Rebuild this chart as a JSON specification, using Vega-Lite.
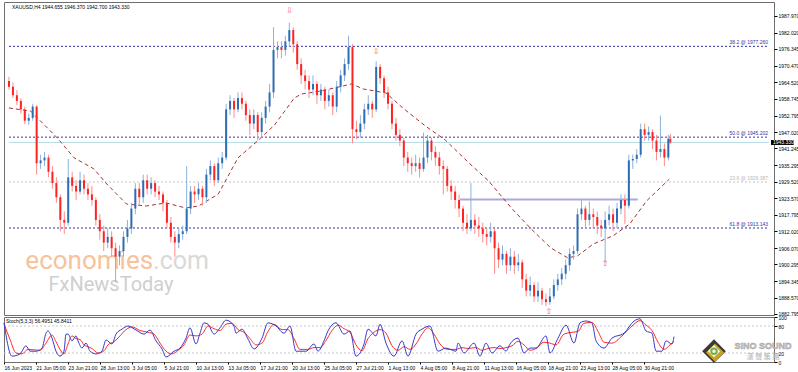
{
"$schema":"https://vega.github.io/schema/vega-lite/v6.json",
"padding":{"left":1,"top":1,"right":0,"bottom":0},
"background":"#ffffff",
"config":{"view":{"stroke":"#6e6e6e","strokeWidth":1},"text":{"font":"Liberation Sans"},"axis":{"labelOverlap":false,"labelBound":false,"labelFlush":false,"labelSeparation":0}},
"spacing":2,
"bounds":"flush",
"datasets":{
"candles":[
{"i":0,"o":1965,"h":1966.5,"l":1962,"c":1963},{"i":2,"o":1963,"h":1964.5,"l":1959,"c":1960},{"i":4,"o":1960,"h":1961.8,"l":1956.5,"c":1958},{"i":6,"o":1958,"h":1959,"l":1953.5,"c":1955},{"i":8,"o":1955,"h":1956,"l":1949.8,"c":1951},{"i":10,"o":1951,"h":1953.5,"l":1949.5,"c":1952},{"i":12,"o":1952,"h":1957,"l":1951,"c":1956},{"i":14,"o":1956,"h":1956.5,"l":1932,"c":1936},{"i":16,"o":1936,"h":1939,"l":1934,"c":1937},{"i":18,"o":1937,"h":1940,"l":1935,"c":1938},
{"i":20,"o":1938,"h":1939,"l":1931,"c":1933},{"i":22,"o":1933,"h":1935,"l":1927,"c":1929},{"i":24,"o":1929,"h":1931,"l":1922,"c":1924},{"i":26,"o":1924,"h":1925,"l":1912,"c":1916},{"i":28,"o":1916,"h":1919,"l":1911,"c":1915},{"i":30,"o":1915,"h":1937.5,"l":1914,"c":1931},{"i":32,"o":1931,"h":1933,"l":1926,"c":1928},{"i":34,"o":1928,"h":1930,"l":1923,"c":1926},{"i":36,"o":1926,"h":1933,"l":1925,"c":1930},{"i":38,"o":1930,"h":1932,"l":1925,"c":1927},
{"i":40,"o":1927,"h":1929,"l":1923,"c":1925},{"i":42,"o":1925,"h":1928,"l":1921,"c":1923},{"i":44,"o":1923,"h":1924,"l":1914,"c":1916},{"i":46,"o":1916,"h":1918,"l":1909,"c":1912},{"i":48,"o":1912,"h":1914,"l":1905,"c":1908},{"i":50,"o":1908,"h":1913,"l":1906,"c":1910},{"i":52,"o":1910,"h":1912,"l":1903,"c":1906},{"i":54,"o":1906,"h":1908,"l":1894,"c":1903},{"i":56,"o":1903,"h":1907,"l":1900,"c":1905},{"i":58,"o":1905,"h":1912,"l":1903,"c":1910},
{"i":60,"o":1910,"h":1916,"l":1908,"c":1913},{"i":62,"o":1913,"h":1922,"l":1911,"c":1920},{"i":64,"o":1920,"h":1929,"l":1918,"c":1927},{"i":66,"o":1927,"h":1929,"l":1921,"c":1924},{"i":68,"o":1924,"h":1932,"l":1922,"c":1930},{"i":70,"o":1930,"h":1932,"l":1925,"c":1927},{"i":72,"o":1927,"h":1931,"l":1925,"c":1929},{"i":74,"o":1929,"h":1930,"l":1924,"c":1926},{"i":76,"o":1926,"h":1928,"l":1923,"c":1925},{"i":78,"o":1925,"h":1926,"l":1919,"c":1922},
{"i":80,"o":1922,"h":1923,"l":1913,"c":1915},{"i":82,"o":1915,"h":1917,"l":1908,"c":1910},{"i":84,"o":1910,"h":1912,"l":1903,"c":1908},{"i":86,"o":1908,"h":1913,"l":1906,"c":1911},{"i":88,"o":1911,"h":1914,"l":1909,"c":1912},{"i":90,"o":1912,"h":1935,"l":1911,"c":1920},{"i":92,"o":1920,"h":1928,"l":1918,"c":1926},{"i":94,"o":1926,"h":1928,"l":1922,"c":1925},{"i":96,"o":1925,"h":1929,"l":1923,"c":1927},{"i":98,"o":1927,"h":1928,"l":1921,"c":1924},
{"i":100,"o":1924,"h":1934,"l":1922,"c":1932},{"i":102,"o":1932,"h":1937,"l":1930,"c":1935},{"i":104,"o":1935,"h":1936,"l":1928,"c":1930},{"i":106,"o":1930,"h":1938,"l":1929,"c":1936},{"i":108,"o":1936,"h":1940,"l":1934,"c":1938},{"i":110,"o":1938,"h":1957,"l":1937,"c":1955},{"i":112,"o":1955,"h":1960,"l":1953,"c":1958},{"i":114,"o":1958,"h":1959,"l":1952,"c":1955},{"i":116,"o":1955,"h":1961,"l":1954,"c":1959},{"i":118,"o":1959,"h":1961,"l":1955,"c":1957},
{"i":120,"o":1957,"h":1958,"l":1951,"c":1953},{"i":122,"o":1953,"h":1955,"l":1946,"c":1950},{"i":124,"o":1950,"h":1955,"l":1948,"c":1953},{"i":126,"o":1953,"h":1954,"l":1944,"c":1947},{"i":128,"o":1947,"h":1954,"l":1945,"c":1952},{"i":130,"o":1952,"h":1958,"l":1950,"c":1956},{"i":132,"o":1956,"h":1964,"l":1954,"c":1961},{"i":134,"o":1961,"h":1984,"l":1959,"c":1976},{"i":136,"o":1976,"h":1979,"l":1973,"c":1977},{"i":138,"o":1977,"h":1979,"l":1973,"c":1976},
{"i":140,"o":1976,"h":1981,"l":1974,"c":1979},{"i":142,"o":1979,"h":1985.6,"l":1977,"c":1983},{"i":144,"o":1983,"h":1984,"l":1975,"c":1978},{"i":146,"o":1978,"h":1979,"l":1969,"c":1971},{"i":148,"o":1971,"h":1973,"l":1964,"c":1967},{"i":150,"o":1967,"h":1969,"l":1962,"c":1965},{"i":152,"o":1965,"h":1967,"l":1959,"c":1962},{"i":154,"o":1962,"h":1967,"l":1960,"c":1964},{"i":156,"o":1964,"h":1965,"l":1957,"c":1960},{"i":158,"o":1960,"h":1964,"l":1958,"c":1962},
{"i":160,"o":1962,"h":1963,"l":1955,"c":1958},{"i":162,"o":1958,"h":1962,"l":1956,"c":1960},{"i":164,"o":1960,"h":1961,"l":1953,"c":1956},{"i":166,"o":1956,"h":1965,"l":1954,"c":1963},{"i":168,"o":1963,"h":1969,"l":1961,"c":1967},{"i":170,"o":1967,"h":1973,"l":1965,"c":1971},{"i":172,"o":1971,"h":1981,"l":1969,"c":1977},{"i":174,"o":1977,"h":1978,"l":1943,"c":1948},{"i":176,"o":1948,"h":1951,"l":1944.5,"c":1947},{"i":178,"o":1947,"h":1953,"l":1945,"c":1950},
{"i":180,"o":1950,"h":1957,"l":1948,"c":1955},{"i":182,"o":1955,"h":1960,"l":1953,"c":1957},{"i":184,"o":1957,"h":1958,"l":1952,"c":1955},{"i":186,"o":1955,"h":1972,"l":1954,"c":1970},{"i":188,"o":1970,"h":1971,"l":1964,"c":1966},{"i":190,"o":1966,"h":1967,"l":1959,"c":1961},{"i":192,"o":1961,"h":1963,"l":1955,"c":1957},{"i":194,"o":1957,"h":1958,"l":1948,"c":1950},{"i":196,"o":1950,"h":1952,"l":1944,"c":1946},{"i":198,"o":1946,"h":1948,"l":1942,"c":1944},
{"i":200,"o":1944,"h":1945,"l":1935,"c":1938},{"i":202,"o":1938,"h":1940,"l":1933,"c":1936},{"i":204,"o":1936,"h":1938,"l":1932,"c":1935},{"i":206,"o":1935,"h":1939,"l":1933,"c":1936},{"i":208,"o":1936,"h":1938,"l":1931,"c":1934},{"i":210,"o":1934,"h":1946.8,"l":1933,"c":1938},{"i":212,"o":1938,"h":1946,"l":1936,"c":1944},{"i":214,"o":1944,"h":1945,"l":1937,"c":1940},{"i":216,"o":1940,"h":1942,"l":1935,"c":1938},{"i":218,"o":1938,"h":1940,"l":1932,"c":1935},
{"i":220,"o":1935,"h":1937,"l":1925,"c":1934},{"i":222,"o":1934,"h":1935,"l":1926,"c":1928},{"i":224,"o":1928,"h":1930,"l":1923,"c":1926},{"i":226,"o":1926,"h":1928,"l":1920,"c":1923},{"i":228,"o":1923,"h":1925,"l":1917,"c":1920},{"i":230,"o":1920,"h":1921,"l":1912,"c":1915},{"i":232,"o":1915,"h":1918,"l":1911,"c":1913},{"i":234,"o":1913,"h":1929,"l":1912,"c":1916},{"i":236,"o":1916,"h":1918,"l":1911,"c":1914},{"i":238,"o":1914,"h":1917,"l":1910,"c":1913},
{"i":240,"o":1913,"h":1915,"l":1908,"c":1911},{"i":242,"o":1911,"h":1913,"l":1907,"c":1910},{"i":244,"o":1910,"h":1915,"l":1908,"c":1912},{"i":246,"o":1912,"h":1913,"l":1897,"c":1906},{"i":248,"o":1906,"h":1908,"l":1899,"c":1902},{"i":250,"o":1902,"h":1907,"l":1900,"c":1904},{"i":252,"o":1904,"h":1905,"l":1897,"c":1900},{"i":254,"o":1900,"h":1906,"l":1898,"c":1903},{"i":256,"o":1903,"h":1905,"l":1897,"c":1900},{"i":258,"o":1900,"h":1904,"l":1898,"c":1901},
{"i":260,"o":1901,"h":1902,"l":1892,"c":1895},{"i":262,"o":1895,"h":1897,"l":1889,"c":1891},{"i":264,"o":1891,"h":1896,"l":1889,"c":1893},{"i":266,"o":1893,"h":1894,"l":1887,"c":1889},{"i":268,"o":1889,"h":1894,"l":1887,"c":1891},{"i":270,"o":1891,"h":1892,"l":1886,"c":1888},{"i":272,"o":1888,"h":1890,"l":1885.6,"c":1887},{"i":274,"o":1887,"h":1892,"l":1886,"c":1889},{"i":276,"o":1889,"h":1895,"l":1888,"c":1893},{"i":278,"o":1893,"h":1897,"l":1891,"c":1895},
{"i":280,"o":1895,"h":1899,"l":1893,"c":1897},{"i":282,"o":1897,"h":1902,"l":1895,"c":1900},{"i":284,"o":1900,"h":1906,"l":1898,"c":1904},{"i":286,"o":1904,"h":1907,"l":1902,"c":1905},{"i":288,"o":1905,"h":1920,"l":1904,"c":1918},{"i":290,"o":1918,"h":1923,"l":1916,"c":1920},{"i":292,"o":1920,"h":1921,"l":1913,"c":1916},{"i":294,"o":1916,"h":1922.5,"l":1914,"c":1918},{"i":296,"o":1918,"h":1920,"l":1913,"c":1917},{"i":298,"o":1917,"h":1919,"l":1911,"c":1914},
{"i":300,"o":1914,"h":1916,"l":1910,"c":1913},{"i":302,"o":1913,"h":1919,"l":1901,"c":1916},{"i":304,"o":1916,"h":1921,"l":1914,"c":1918},{"i":306,"o":1918,"h":1920,"l":1912,"c":1915},{"i":308,"o":1915,"h":1922,"l":1913,"c":1920},{"i":310,"o":1920,"h":1925,"l":1918,"c":1923},{"i":312,"o":1923,"h":1925,"l":1914.6,"c":1921},{"i":314,"o":1921,"h":1939,"l":1920,"c":1937},{"i":316,"o":1937,"h":1939,"l":1934,"c":1937.5},{"i":318,"o":1937.5,"h":1941,"l":1936,"c":1939},
{"i":320,"o":1939,"h":1950,"l":1938,"c":1948},{"i":322,"o":1948,"h":1950,"l":1944,"c":1946},{"i":324,"o":1946,"h":1949,"l":1944,"c":1947},{"i":326,"o":1947,"h":1948,"l":1941,"c":1944},{"i":328,"o":1944,"h":1946,"l":1937,"c":1940},{"i":330,"o":1940,"h":1952.8,"l":1938,"c":1941},{"i":332,"o":1941,"h":1943,"l":1935,"c":1938},{"i":334,"o":1938,"h":1946,"l":1937,"c":1944.655},{"i":335,"o":1944.655,"h":1946.37,"l":1942.7,"c":1943.33}
],
"ma":[
{"i":0,"p":1955.5},{"i":11,"p":1954.4},{"i":24.5,"p":1944.9},{"i":33,"p":1937.9},{"i":43,"p":1934.0},{"i":49.5,"p":1928.7},{"i":59.5,"p":1921.6},{"i":69.5,"p":1920.9},{"i":79.5,"p":1922.0},{"i":89.5,"p":1920.2},{"i":96,"p":1920.9},{"i":106,"p":1925.1},{"i":116,"p":1937.9},{"i":126,"p":1943.9},{"i":134.5,"p":1949.5},{"i":144.5,"p":1959.0},{"i":148,"p":1960.4},{"i":158,"p":1961.5},{"i":169.5,"p":1963.3},{"i":173.5,"p":1964.0},{"i":179.5,"p":1962.2},{"i":191,"p":1960.8},{"i":199.5,"p":1955.5},{"i":211,"p":1949.1},{"i":221,"p":1944.2},{"i":233,"p":1936.1},{"i":243,"p":1929.7},{"i":254.5,"p":1920.2},{"i":264.5,"p":1912.8},{"i":274.5,"p":1906.1},{"i":283,"p":1902.6},{"i":288,"p":1903.3},{"i":296,"p":1907.5},{"i":306,"p":1910.4},{"i":314.5,"p":1914.6},{"i":323,"p":1922.7},{"i":334.5,"p":1930.4}
],
"k":[
{"i":0,"v":87},{"i":4,"v":13},{"i":8,"v":18},{"i":11,"v":36},{"i":13,"v":24},{"i":16,"v":24},{"i":19,"v":31},{"i":21,"v":64},{"i":22,"v":69},{"i":24,"v":53},{"i":26,"v":24},{"i":28,"v":13},{"i":30,"v":24},{"i":31,"v":62},{"i":32,"v":62},{"i":34,"v":47},{"i":36,"v":58},{"i":37,"v":47},{"i":39,"v":31},{"i":41,"v":42},{"i":43,"v":24},{"i":46,"v":18},{"i":49,"v":24},{"i":51,"v":49},{"i":54,"v":40},{"i":56,"v":62},{"i":59,"v":73},{"i":62,"v":80},{"i":66,"v":71},{"i":70,"v":62},{"i":73,"v":71},{"i":76,"v":47},{"i":79,"v":29},{"i":81,"v":11},{"i":85,"v":24},{"i":88,"v":31},{"i":91,"v":53},{"i":93,"v":76},{"i":96,"v":40},{"i":98,"v":64},{"i":100,"v":87},{"i":102,"v":84},{"i":105,"v":62},{"i":108,"v":76},{"i":111,"v":93},{"i":115,"v":80},{"i":116,"v":64},{"i":119,"v":73},{"i":122,"v":51},{"i":125,"v":29},{"i":129,"v":53},{"i":132,"v":87},{"i":136,"v":80},{"i":140,"v":64},{"i":143,"v":80},{"i":146,"v":24},{"i":151,"v":24},{"i":155,"v":40},{"i":157,"v":24},{"i":160,"v":47},{"i":162,"v":69},{"i":166,"v":87},{"i":170,"v":62},{"i":173,"v":69},{"i":176,"v":13},{"i":180,"v":40},{"i":182,"v":73},{"i":186,"v":58},{"i":188,"v":84},{"i":191,"v":42},{"i":195,"v":13},{"i":199,"v":47},{"i":202,"v":13},{"i":206,"v":62},{"i":209,"v":73},{"i":213,"v":80},{"i":217,"v":24},{"i":221,"v":31},{"i":226,"v":24},{"i":227,"v":42},{"i":230,"v":20},{"i":235,"v":42},{"i":238,"v":13},{"i":241,"v":42},{"i":244,"v":20},{"i":248,"v":36},{"i":251,"v":24},{"i":253,"v":40},{"i":257,"v":53},{"i":260,"v":20},{"i":263,"v":31},{"i":266,"v":31},{"i":271,"v":58},{"i":273,"v":20},{"i":277,"v":53},{"i":281,"v":82},{"i":285,"v":42},{"i":288,"v":87},{"i":291,"v":91},{"i":294,"v":87},{"i":296,"v":47},{"i":300,"v":31},{"i":304,"v":53},{"i":310,"v":64},{"i":315,"v":91},{"i":318,"v":96},{"i":321,"v":69},{"i":324,"v":64},{"i":326,"v":24},{"i":329,"v":24},{"i":331,"v":47},{"i":334,"v":40},{"i":335,"v":56.5}
],
"d":[
{"i":0,"v":85},{"i":3,"v":50},{"i":6,"v":20},{"i":9,"v":18},{"i":12,"v":28},{"i":15,"v":27},{"i":18,"v":26},{"i":21,"v":42},{"i":24,"v":60},{"i":26,"v":45},{"i":28,"v":28},{"i":30,"v":18},{"i":32,"v":40},{"i":34,"v":58},{"i":36,"v":52},{"i":38,"v":50},{"i":40,"v":38},{"i":42,"v":34},{"i":44,"v":30},{"i":47,"v":20},{"i":50,"v":25},{"i":52,"v":38},{"i":55,"v":45},{"i":58,"v":58},{"i":61,"v":72},{"i":64,"v":78},{"i":68,"v":70},{"i":72,"v":66},{"i":75,"v":62},{"i":78,"v":42},{"i":81,"v":24},{"i":84,"v":18},{"i":87,"v":26},{"i":90,"v":38},{"i":93,"v":60},{"i":96,"v":58},{"i":99,"v":62},{"i":102,"v":80},{"i":105,"v":74},{"i":108,"v":70},{"i":111,"v":84},{"i":114,"v":86},{"i":117,"v":72},{"i":120,"v":66},{"i":123,"v":52},{"i":126,"v":38},{"i":129,"v":42},{"i":132,"v":68},{"i":135,"v":84},{"i":139,"v":72},{"i":142,"v":72},{"i":145,"v":52},{"i":148,"v":28},{"i":152,"v":28},{"i":155,"v":32},{"i":158,"v":32},{"i":161,"v":48},{"i":164,"v":70},{"i":167,"v":82},{"i":170,"v":74},{"i":173,"v":66},{"i":176,"v":38},{"i":179,"v":25},{"i":182,"v":52},{"i":185,"v":66},{"i":188,"v":72},{"i":191,"v":64},{"i":194,"v":36},{"i":197,"v":26},{"i":200,"v":34},{"i":203,"v":28},{"i":206,"v":40},{"i":209,"v":62},{"i":212,"v":76},{"i":215,"v":62},{"i":218,"v":40},{"i":222,"v":28},{"i":226,"v":28},{"i":229,"v":32},{"i":232,"v":30},{"i":236,"v":32},{"i":239,"v":26},{"i":242,"v":30},{"i":245,"v":32},{"i":248,"v":30},{"i":251,"v":32},{"i":254,"v":36},{"i":257,"v":46},{"i":260,"v":38},{"i":263,"v":26},{"i":266,"v":30},{"i":270,"v":44},{"i":273,"v":42},{"i":276,"v":38},{"i":280,"v":62},{"i":284,"v":66},{"i":287,"v":68},{"i":290,"v":86},{"i":294,"v":88},{"i":297,"v":68},{"i":300,"v":44},{"i":304,"v":42},{"i":309,"v":58},{"i":314,"v":80},{"i":318,"v":92},{"i":321,"v":82},{"i":324,"v":70},{"i":327,"v":44},{"i":330,"v":28},{"i":333,"v":38},{"i":335,"v":45.84}
]
},
"vconcat":[
{
"width":770,"height":313,
"encoding":{
 "x":{"field":"i","type":"quantitative","scale":{"domain":[0,385],"nice":false,"zero":false},"axis":null},
 "y":{"field":"p","type":"quantitative","scale":{"domain":[1882.43,1992.91],"nice":false,"zero":false},"title":null,
  "axis":{"orient":"right","values":[1882.795,1888.57,1894.345,1900.295,1906.07,1912.02,1917.795,1923.57,1929.52,1935.295,1941.245,1947.02,1952.795,1958.745,1964.52,1970.47,1976.345,1982.02,1987.97],"format":".3f","labelFont":"Liberation Sans","labelFontSize":5,"labelColor":"#000","tickColor":"#000","tickSize":3,"labelPadding":1,"domain":false,"grid":false,"labelOverlap":false,"labelBound":false,"labelFlush":false}}
},
"layer":[
{"data":{"values":[{"i":73,"p":1898.7,"t":"economies"}]},
 "mark":{"type":"text","align":"right","baseline":"alphabetic","font":"Roboto","fontSize":26,"color":"#f8c29a","clip":true},
 "encoding":{"text":{"field":"t"}}},
{"data":{"values":[{"i":73,"p":1898.7,"t":".com"}]},
 "mark":{"type":"text","align":"left","baseline":"alphabetic","font":"Roboto","fontSize":25,"color":"#d9d9d9","clip":true},
 "encoding":{"text":{"field":"t"}}},
{"data":{"values":[{"i":20,"p":1890.9,"t":"FxNewsToday"}]},
 "mark":{"type":"text","align":"left","baseline":"alphabetic","font":"Roboto","fontSize":20,"color":"#cfcfcf"},
 "encoding":{"text":{"field":"t"}}},
{"data":{"values":[{"i":0,"i2":385,"p":1943.33}]},
 "mark":{"type":"rule","color":"#b7dde6","strokeWidth":1},
 "encoding":{"x2":{"field":"i2"}}},
{"data":{"values":[{"i":0,"i2":385,"p":1977.26,"c":"b"},{"i":0,"i2":385,"p":1945.202,"c":"b"},{"i":0,"i2":385,"p":1913.143,"c":"b"},{"i":0,"i2":385,"p":1929.387,"c":"g"}]},
 "mark":{"type":"rule","strokeWidth":1,"strokeDash":[2,2]},
 "encoding":{"x2":{"field":"i2"},
 "color":{"condition":{"test":"datum.c=='b'","value":"#3434a8"},"value":"#c4c4c4"}}},
{"data":{"values":[{"i":228.5,"i2":318.5,"p":1923.2}]},
 "mark":{"type":"rule","color":"#a9a9dc","strokeWidth":2},
 "encoding":{"x2":{"field":"i2"}}},
{"data":{"name":"ma"},
 "mark":{"type":"line","color":"#a83232","strokeWidth":1,"strokeDash":[4,3],"clip":true}},
{"data":{"name":"candles"},
 "mark":{"type":"rule","strokeWidth":1,"clip":true},
 "encoding":{"y":{"field":"l","type":"quantitative","scale":{"domain":[1882.43,1992.91],"nice":false,"zero":false},"title":null},
 "y2":{"field":"h"},
 "color":{"condition":{"test":"datum.c>=datum.o","value":"#8db2dc"},"value":"#ff8a8a"}}},
{"data":{"name":"candles"},
 "mark":{"type":"bar","size":2,"clip":true},
 "encoding":{"y":{"field":"o","type":"quantitative","scale":{"domain":[1882.43,1992.91],"nice":false,"zero":false},"title":null},
 "y2":{"field":"c"},
 "color":{"condition":{"test":"datum.c>=datum.o","value":"#2d6db4"},"value":"#ff2222"}}},
{"data":{"values":[{"i":142,"p":1989.6,"t":"⇩"},{"i":186,"p":1975.3,"t":"⇩"},{"i":273.5,"p":1883.6,"t":"⇧"},{"i":302,"p":1900.4,"t":"⇧"}]},
 "mark":{"type":"text","font":"DejaVu Sans","fontSize":8,"color":"#ff5a5a","baseline":"middle"},
 "encoding":{"text":{"field":"t"}}},
{"data":{"values":[{"i":384.5,"p":1977.7,"t":"38.2 @ 1977.260","c":"b"},{"i":384.5,"p":1945.65,"t":"50.0 @ 1945.202","c":"b"},{"i":384.5,"p":1913.6,"t":"61.8 @ 1913.143","c":"b"},{"i":384.5,"p":1929.85,"t":"23.6 @ 1929.387","c":"g"}]},
 "mark":{"type":"text","align":"right","baseline":"bottom","fontSize":5,"font":"Liberation Sans"},
 "encoding":{"text":{"field":"t"},
 "color":{"condition":{"test":"datum.c=='b'","value":"#3434a8"},"value":"#b8b8b8"}}},
{"data":{"values":[{"i":1.5,"p":1991.2,"t":"XAUUSD,H4  1944.655 1946.370 1942.700 1943.330"}]},
 "mark":{"type":"text","align":"left","baseline":"middle","fontSize":5,"font":"Liberation Sans","color":"#000"},
 "encoding":{"text":{"field":"t"}}},
{"data":{"values":[{"i":386,"i2":397.5,"p":1942.45,"p2":1944.2}]},
 "mark":{"type":"rect","color":"#000","clip":false},
 "encoding":{"x2":{"field":"i2"},"y2":{"field":"p2"}}},
{"data":{"values":[{"i":387,"p":1943.33,"t":"1943.330"}]},
 "mark":{"type":"text","align":"left","baseline":"middle","fontSize":5,"font":"Liberation Sans","color":"#fff","clip":false},
 "encoding":{"text":{"field":"t"}}}
]
},
{
"width":770,"height":45,
"encoding":{
 "x":{"field":"i","type":"quantitative","scale":{"domain":[0,385],"nice":false,"zero":false},
  "axis":{"values":[0,16,32,48,64,80,96,112,128,144,160,176,192,208,224,240,256,272,288,304,320],
  "labelExpr":"['16 Jun 2023','21 Jun 05:00','23 Jun 21:00','28 Jun 13:00','3 Jul 05:00','5 Jul 21:00','10 Jul 13:00','13 Jul 05:00','17 Jul 21:00','20 Jul 13:00','25 Jul 05:00','27 Jul 21:00','1 Aug 13:00','4 Aug 05:00','8 Aug 21:00','11 Aug 13:00','16 Aug 05:00','18 Aug 21:00','23 Aug 13:00','28 Aug 05:00','30 Aug 21:00'][round(datum.value/16)]",
  "labelAlign":"left","labelFont":"Liberation Sans","labelFontSize":5,"labelColor":"#000","tickColor":"#000","tickSize":2,"labelPadding":1,"domain":false,"grid":false,"title":null,"labelOverlap":false,"labelBound":false,"labelFlush":false}},
 "y":{"field":"v","type":"quantitative","scale":{"domain":[0,100],"nice":false,"zero":false},"title":null,
  "axis":{"orient":"right","values":[0,20,80,100],"labelFont":"Liberation Sans","labelFontSize":5,"labelColor":"#000","tickColor":"#000","tickSize":3,"labelPadding":1,"domain":false,"grid":false,"labelOverlap":false,"labelBound":false,"labelFlush":false}}
},
"layer":[
{"data":{"values":[{"i":0,"i2":385,"v":20},{"i":0,"i2":385,"v":80}]},
 "mark":{"type":"rule","color":"#c8c8c8","strokeDash":[2,2],"strokeWidth":1},
 "encoding":{"x2":{"field":"i2"}}},
{"data":{"values":[{"i":355,"v":24}]},
 "mark":{"type":"point","shape":"diamond","filled":true,"size":560,"color":"#3a3a3a","clip":false,"opacity":1}},
{"data":{"values":[{"i":355.5,"v":21}]},
 "mark":{"type":"point","shape":"diamond","filled":true,"size":330,"color":"#c9a322","clip":false,"opacity":1}},
{"data":{"values":[{"i":355,"v":24}]},
 "mark":{"type":"point","shape":"diamond","filled":true,"size":150,"color":"#f2f2f2","clip":false,"opacity":1}},
{"data":{"values":[{"i":355,"v":24}]},
 "mark":{"type":"point","shape":"circle","filled":false,"size":30,"strokeWidth":2,"color":"#76b043","clip":false,"opacity":1}},
{"data":{"values":[{"i":379.5,"v":36,"t":"SINO SOUND"}]},
 "mark":{"type":"text","font":"Liberation Sans","fontWeight":"bold","fontSize":9,"color":"#c4c4c4","stroke":"#9a9a9a","strokeWidth":0.4,"baseline":"middle","clip":false},
 "encoding":{"text":{"field":"t"}}},
{"data":{"values":[{"i":379.5,"v":11,"t":"漢 聲 集 團"}]},
 "mark":{"type":"text","font":"Noto Sans CJK TC","fontWeight":"bold","fontSize":7,"color":"#c4c4c4","baseline":"middle","clip":false},
 "encoding":{"text":{"field":"t"}}},
{"data":{"name":"d"},
 "mark":{"type":"line","color":"#ff2a2a","strokeWidth":1,"interpolate":"monotone"}},
{"data":{"name":"k"},
 "mark":{"type":"line","color":"#3a3ac8","strokeWidth":1,"interpolate":"monotone"}},
{"data":{"values":[{"i":1,"v":91,"t":"Stoch(5,3,3) 56.4951 45.8411"}]},
 "mark":{"type":"text","align":"left","baseline":"middle","fontSize":5,"font":"Liberation Sans","color":"#000"},
 "encoding":{"text":{"field":"t"}}}
]
}
],
"resolve":{"scale":{"x":"independent","y":"independent"}}
}
